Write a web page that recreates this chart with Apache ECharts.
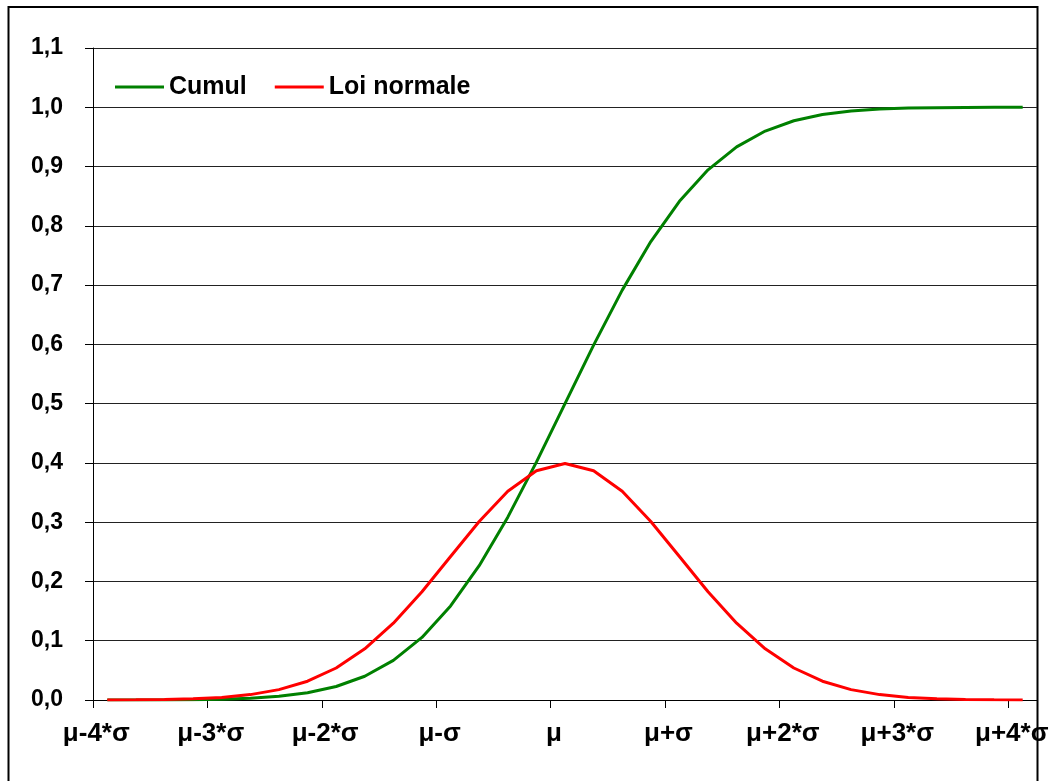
<!DOCTYPE html>
<html>
<head>
<meta charset="utf-8">
<script src="https://cdn.jsdelivr.net/npm/echarts@6/dist/echarts.min.js"></script>
<style>
html, body { margin: 0; padding: 0; background: #fff; }
#main { width: 1064px; height: 781px; }
</style>
</head>
<body>
<div id="main"></div>
<script>
// abscisse en nombre d'écarts-types, pas de 0,25
var zSteps = ['-4', '-3.75', '-3.5', '-3.25', '-3', '-2.75', '-2.5', '-2.25', '-2', '-1.75', '-1.5', '-1.25', '-1', '-0.75', '-0.5', '-0.25',
	'0', '0.25', '0.5', '0.75', '1', '1.25', '1.5', '1.75', '2', '2.25', '2.5', '2.75', '3', '3.25', '3.5', '3.75', '4'];
var tickLabels = ['μ-4*σ', 'μ-3*σ', 'μ-2*σ', 'μ-σ', 'μ', 'μ+σ', 'μ+2*σ', 'μ+3*σ', 'μ+4*σ'];
var cumul = [0.0000, 0.0001, 0.0002, 0.0006, 0.0013, 0.0030, 0.0062, 0.0122, 0.0228, 0.0401, 0.0668, 0.1056, 0.1587, 0.2266, 0.3085, 0.4013,
	0.5000, 0.5987, 0.6915, 0.7734, 0.8413, 0.8944, 0.9332, 0.9599, 0.9772, 0.9878, 0.9938, 0.9970, 0.9987, 0.9994, 0.9998, 0.9999, 1.0000];
var loiNormale = [0.0001, 0.0004, 0.0009, 0.0020, 0.0044, 0.0091, 0.0175, 0.0317, 0.0540, 0.0863, 0.1295, 0.1826, 0.2420, 0.3011, 0.3521, 0.3867,
	0.3989, 0.3867, 0.3521, 0.3011, 0.2420, 0.1826, 0.1295, 0.0863, 0.0540, 0.0317, 0.0175, 0.0091, 0.0044, 0.0020, 0.0009, 0.0004, 0.0001];

var font = "'Liberation Sans', Arial, sans-serif";
var chart = echarts.init(document.getElementById('main'));

var option = {
	animation: false,
	backgroundColor: '#fff',
	graphic: [
		{
			type: 'rect',
			z: -10,
			shape: { x: 8.5, y: 7, width: 1029, height: 800 },
			style: { fill: 'none', stroke: '#000', lineWidth: 2 }
		}
	],
	legend: {
		data: ['Cumul', 'Loi normale'],
		icon: 'rect',
		left: 110,
		top: 68,
		itemWidth: 49,
		itemHeight: 3,
		itemGap: 28,
		textStyle: { fontFamily: font, fontWeight: 'bold', fontSize: 25, color: '#000', lineHeight: 28 }
	},
	grid: {
		left: 93,
		right: 27,
		top: 48,
		bottom: 81
	},
	xAxis: {
		type: 'category',
		data: zSteps,
		boundaryGap: true,
		axisLine: { show: true, lineStyle: { color: '#000', width: 1 } },
		axisTick: { show: true, interval: 3, length: 8, lineStyle: { color: '#000' } },
		axisLabel: {
			interval: 3,
			margin: 21,
			padding: [0, 22, 0, 0],
			fontFamily: font,
			fontWeight: 'bold',
			fontSize: 26,
			color: '#000',
			formatter: function (v, i) { return tickLabels[i / 4]; }
		},
		splitLine: { show: false }
	},
	yAxis: {
		type: 'value',
		min: 0,
		max: 1.1,
		interval: 0.1,
		axisLine: { show: true, lineStyle: { color: '#000', width: 1 } },
		axisTick: { show: true, length: 8, lineStyle: { color: '#000' } },
		axisLabel: {
			margin: 30,
			padding: [3, 0, 0, 0],
			fontFamily: font,
			fontWeight: 'bold',
			fontSize: 23,
			color: '#000',
			formatter: function (v) { return v.toFixed(1).replace('.', ','); }
		},
		splitLine: { show: true, lineStyle: { color: '#222', width: 1 } }
	},
	series: [
		{
			name: 'Cumul',
			type: 'line',
			symbol: 'none',
			lineStyle: { color: '#008000', width: 3 },
			itemStyle: { color: '#008000' },
			data: cumul
		},
		{
			name: 'Loi normale',
			type: 'line',
			symbol: 'none',
			lineStyle: { color: '#ff0000', width: 3 },
			itemStyle: { color: '#ff0000' },
			data: loiNormale
		}
	]
};
chart.setOption(option);
</script>
</body>
</html>
